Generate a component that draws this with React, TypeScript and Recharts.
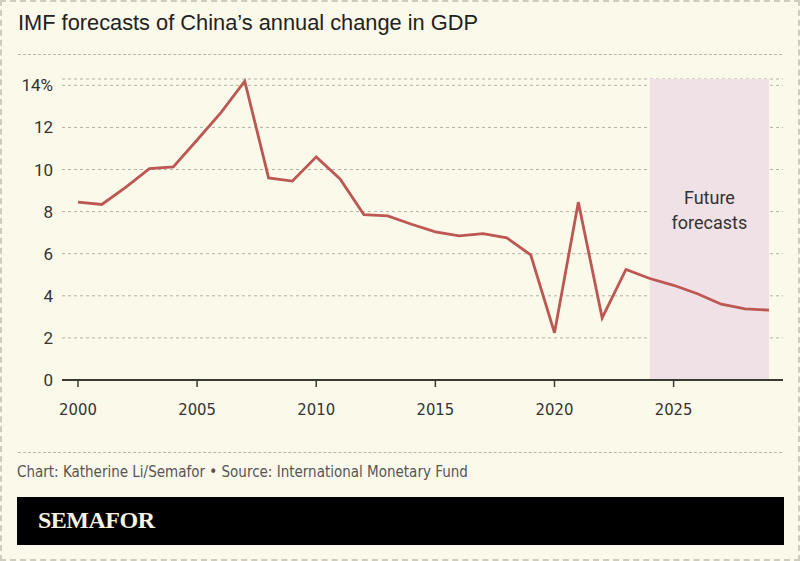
import React from "react";
import {
  LineChart,
  Line,
  XAxis,
  YAxis,
  CartesianGrid,
  ReferenceArea,
  Label,
} from "recharts";

const years = [
  2000, 2001, 2002, 2003, 2004, 2005, 2006, 2007, 2008, 2009, 2010, 2011,
  2012, 2013, 2014, 2015, 2016, 2017, 2018, 2019, 2020, 2021, 2022, 2023,
  2024, 2025, 2026, 2027, 2028, 2029,
];
const gdpGrowth = [
  8.45, 8.34, 9.15, 10.04, 10.12, 11.4, 12.7, 14.2, 9.6, 9.45, 10.6, 9.55,
  7.86, 7.8, 7.4, 7.04, 6.85, 6.95, 6.75, 5.95, 2.24, 8.45, 2.95, 5.25, 4.82,
  4.5, 4.1, 3.6, 3.38, 3.32,
];
const xTicks = [2000, 2005, 2010, 2015, 2020, 2025];
const yTicks = [0, 2, 4, 6, 8, 10, 12, 14];
const forecastStart = 2024;
const forecastEnd = 2029;

const data = years.map((year, i) => ({ year, value: gdpGrowth[i] }));

const BG = "#fbf9e9";

export default function App() {
  return (
    <div
      style={{
        position: "absolute",
        left: 0,
        top: 0,
        width: 800,
        height: 561,
        background: BG,
        boxSizing: "border-box",
        border: "2px dashed #cfccbd",
        overflow: "hidden",
      }}
    >
      <div
        style={{
          position: "absolute",
          left: 16,
          top: 8,
          fontFamily: "'Liberation Sans', Arial, sans-serif",
          fontSize: 21.8,
          color: "#222",
          whiteSpace: "nowrap",
        }}
      >
        IMF forecasts of China’s annual change in GDP
      </div>
      <div
        style={{
          position: "absolute",
          left: 16,
          right: 16,
          top: 52,
          borderTop: "1px dashed #b8b6aa",
        }}
      />
      <div style={{ position: "absolute", left: -2, top: -2 }}>
        <LineChart
          width={800}
          height={561}
          data={data}
          margin={{ top: 79, right: 17, bottom: 131, left: 0 }}
        >
          <CartesianGrid
            vertical={false}
            stroke="#b3b1a5"
            strokeDasharray="3 3"
          />
          <ReferenceArea
            x1={forecastStart}
            x2={forecastEnd}
            y1={0}
            y2={14.3}
            fill="#efe1e5"
            fillOpacity={1}
            stroke="none"
            ifOverflow="visible"
          >
            <Label
              position="insideTop"
              content={(props: any) => {
                const vb = props.viewBox || {};
                const cx = vb.x + vb.width / 2;
                return (
                  <text
                    textAnchor="middle"
                    fontFamily="Roboto, 'Open Sans', sans-serif"
                    fontSize={18}
                    fill="#333"
                  >
                    <tspan x={cx} y={vb.y + 125}>
                      Future
                    </tspan>
                    <tspan x={cx} y={vb.y + 150}>
                      forecasts
                    </tspan>
                  </text>
                );
              }}
            />
          </ReferenceArea>
          <XAxis
            dataKey="year"
            type="number"
            domain={[1999.33, 2029.59]}
            ticks={xTicks}
            allowDataOverflow
            height={50}
            tickSize={7}
            tickMargin={16}
            axisLine={{ stroke: "#3a3a33", strokeWidth: 2 }}
            tickLine={{ stroke: "#3a3a33", strokeWidth: 1.5 }}
            tick={{
              fill: "#333",
              fontSize: 16.5,
              fontFamily: "'Liberation Sans Narrow', 'DejaVu Sans Condensed', Roboto, sans-serif",
            }}
          />
          <YAxis
            type="number"
            domain={[0, 14.3]}
            ticks={yTicks}
            width={62}
            axisLine={false}
            tickLine={false}
            tickSize={0}
            tickMargin={9}
            tickFormatter={(v: number) => (v === 14 ? "14%" : String(v))}
            tick={{
              fill: "#333",
              fontSize: 17,
              fontFamily: "Roboto, 'Open Sans', sans-serif",
            }}
          />
          <Line
            type="linear"
            dataKey="value"
            stroke="#bd5753"
            strokeWidth={2.8}
            dot={false}
            activeDot={false}
            isAnimationActive={false}
          />
        </LineChart>
      </div>
      <div
        style={{
          position: "absolute",
          left: 16,
          right: 16,
          top: 450,
          borderTop: "1px dashed #b8b6aa",
        }}
      />
      <div
        style={{
          position: "absolute",
          left: 15,
          top: 461,
          fontFamily: "'Liberation Sans Narrow', 'DejaVu Sans Condensed', Roboto, sans-serif",
          fontSize: 15,
          color: "#555",
          whiteSpace: "nowrap",
        }}
      >
        Chart: Katherine Li/Semafor • Source: International Monetary Fund
      </div>
      <div
        style={{
          position: "absolute",
          left: 15,
          top: 495,
          width: 767,
          height: 48,
          background: "#000",
        }}
      >
        <div
          style={{
            position: "absolute",
            left: 21,
            top: 10,
            fontFamily: "'Liberation Serif', 'DejaVu Serif', serif",
            fontWeight: "bold",
            fontSize: 24,
            color: "#f7f3e3",
            letterSpacing: -0.5,
          }}
        >
          SEMAFOR
        </div>
      </div>
    </div>
  );
}
